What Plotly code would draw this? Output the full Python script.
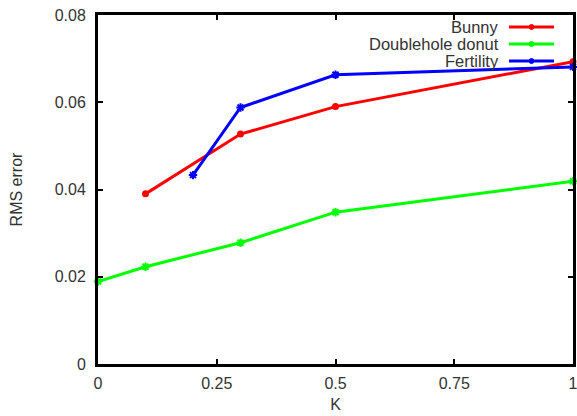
import plotly.graph_objects as go

bunny_k = [0.1, 0.3, 0.5, 1.0]
bunny_rms = [0.0390, 0.0527, 0.0590, 0.0693]
donut_k = [0.0, 0.1, 0.3, 0.5, 1.0]
donut_rms = [0.0189, 0.0223, 0.0278, 0.0348, 0.0419]
fert_k = [0.2, 0.3, 0.5, 1.0]
fert_rms = [0.0433, 0.0588, 0.0663, 0.0681]

x_ticks = [0, 0.25, 0.5, 0.75, 1]
x_labels = ["0", "0.25", "0.5", "0.75", "1"]
y_ticks = [0, 0.02, 0.04, 0.06, 0.08]
y_labels = ["0", "0.02", "0.04", "0.06", "0.08"]

series = [
    ("Bunny", bunny_k, bunny_rms, "#ff0000", "circle", 5),
    ("Doublehole donut", donut_k, donut_rms, "#00ff00", "asterisk-open", 7),
    ("Fertility", fert_k, fert_rms, "#0000ff", "asterisk-open", 7),
]

fig = go.Figure()
for name, xs, ys, col, sym, sz in series:
    fig.add_trace(go.Scatter(x=xs, y=ys, name=name, mode="lines+markers",
                             line=dict(color=col, width=3),
                             marker=dict(color=col, symbol=sym, size=sz,
                                         line=dict(color=col, width=2)),
                             cliponaxis=False, showlegend=False))

FAM = "Liberation Sans, Arial, sans-serif"
font = dict(family=FAM, size=16, color="#333333")

W, H = 577, 416
ml, mr, mt, mb = 98, 4, 15, 52
pw, ph = W - ml - mr, H - mt - mb
def px(x):
    return (x - ml) / pw
def py(y):
    return 1 - (y - mt) / ph

shapes = []
annotations = []
for i, (name, xs, ys, col, sym, sz) in enumerate(series):
    yy = 27 + i * 17
    annotations.append(dict(x=px(501), y=py(yy), xref="paper", yref="paper",
                            text=name, showarrow=False, xanchor="right",
                            yanchor="middle", font=dict(family=FAM, size=16.5, color="#333333")))
    shapes.append(dict(type="line", xref="paper", yref="paper",
                       x0=px(509), x1=px(554), y0=py(yy), y1=py(yy),
                       line=dict(color=col, width=3)))
    shapes.append(dict(type="circle", xref="paper", yref="paper",
                       x0=px(529), x1=px(534), y0=py(yy - 2.5), y1=py(yy + 2.5),
                       fillcolor=col, line=dict(color=col, width=1)))

fig.update_layout(
    width=W, height=H,
    margin=dict(l=ml, r=mr, t=mt, b=mb, autoexpand=False),
    plot_bgcolor="white", paper_bgcolor="white",
    font=font,
    shapes=shapes, annotations=annotations,
    xaxis=dict(range=[0, 1], tickvals=x_ticks, ticktext=x_labels,
               showgrid=False, zeroline=False, showline=True, linecolor="black",
               linewidth=3, mirror="ticks", ticks="inside", ticklen=5,
               tickwidth=2, tickcolor="black", automargin=False,
               ticklabelstandoff=3, ticklabeloverflow="allow",
               title=dict(text="K", standoff=8, font=dict(size=16))),
    yaxis=dict(range=[0, 0.08], tickvals=y_ticks, ticktext=y_labels,
               showgrid=False, zeroline=False, showline=True, linecolor="black",
               linewidth=3, mirror="ticks", ticks="inside", ticklen=5,
               tickwidth=2, tickcolor="black", automargin=False,
               ticklabelstandoff=6, ticklabeloverflow="allow",
               title=dict(text="RMS error", standoff=29, font=dict(size=16))),
)

fig.write_html("out.html", config={"displayModeBar": False},
               post_script="document.body.style.margin='0';document.body.style.padding='0';")
